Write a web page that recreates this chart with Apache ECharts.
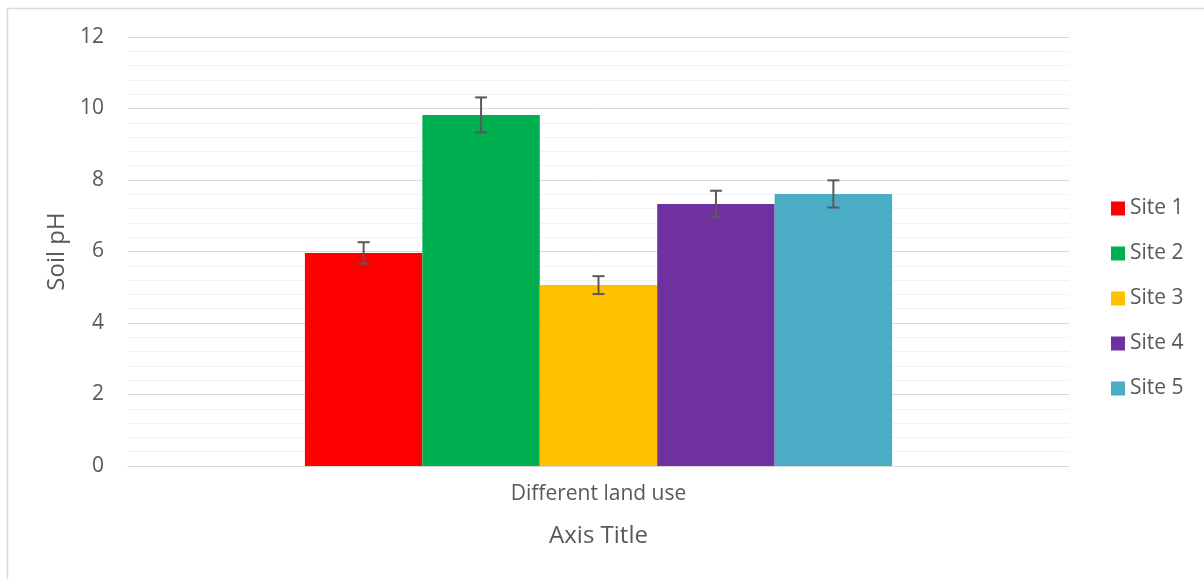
<!DOCTYPE html>
<html>
<head>
<meta charset="utf-8">
<script src="https://cdn.jsdelivr.net/npm/echarts@6/dist/echarts.min.js"></script>
<style>
html,body{margin:0;padding:0;background:#fff;}
#chart{width:1204px;height:579px;}
</style>
</head>
<body>
<div id="chart"></div>
<script>
const categories = ['Different land use'];
const siteNames = ['Site 1', 'Site 2', 'Site 3', 'Site 4', 'Site 5'];
const siteValues = [5.96, 9.82, 5.06, 7.33, 7.61];
const siteErrors = [0.30, 0.49, 0.25, 0.37, 0.38];
const siteColors = ['#ff0000', '#00b050', '#ffc000', '#7030a0', '#4bacc6'];
const yTicks = [0, 2, 4, 6, 8, 10, 12];

const FONT = 'Open Sans';
const TXT = '#595959';
const CAT_GAP = 0.376;

const chart = echarts.init(document.getElementById('chart'));

const barSeries = siteNames.map((name, i) => ({
  name: name,
  type: 'bar',
  data: [siteValues[i]],
  itemStyle: { color: siteColors[i] },
  barGap: '0%',
  barCategoryGap: (CAT_GAP * 100) + '%',
  emphasis: { disabled: true }
}));

const errData = siteNames.map((n, i) => [0, siteValues[i] - siteErrors[i], siteValues[i] + siteErrors[i], i]);

const errSeries = {
  type: 'custom',
  name: 'err',
  z: 10,
  silent: true,
  renderItem: function (params, api) {
    const cat = api.value(0);
    const lo = api.coord([cat, api.value(1)]);
    const hi = api.coord([cat, api.value(2)]);
    const idx = api.value(3);
    const catW = api.size([1, 0])[0];
    const bw = catW * (1 - CAT_GAP) / siteNames.length;
    const x = lo[0] + (idx - (siteNames.length - 1) / 2) * bw;
    const cap = 6;
    const st = { stroke: '#595959', lineWidth: 2 };
    return {
      type: 'group',
      children: [
        { type: 'line', shape: { x1: x, y1: lo[1], x2: x, y2: hi[1] }, style: st },
        { type: 'line', shape: { x1: x - cap, y1: lo[1], x2: x + cap, y2: lo[1] }, style: st },
        { type: 'line', shape: { x1: x - cap, y1: hi[1], x2: x + cap, y2: hi[1] }, style: st }
      ]
    };
  },
  encode: { x: 0, y: [1, 2] },
  data: errData
};

chart.setOption({
  animation: false,
  textStyle: { fontFamily: FONT },
  graphic: [{
    type: 'rect',
    shape: { x: 7.5, y: 8.5, width: 1300, height: 700 },
    style: { fill: 'none', stroke: '#d9d9d9', lineWidth: 1.5 },
    silent: true,
    z: -10
  }],
  grid: { left: 128, right: 135, top: 37, bottom: 113 },
  legend: {
    orient: 'vertical',
    left: 1106,
    top: 193,
    itemWidth: 14,
    itemHeight: 14,
    itemGap: 24,
    icon: 'rect',
    data: siteNames,
    textStyle: { color: TXT, fontSize: 21, fontFamily: FONT, padding: [0, 0, 0, 0] }
  },
  xAxis: {
    type: 'category',
    data: categories,
    name: 'Axis Title',
    nameLocation: 'middle',
    nameGap: 58,
    nameTextStyle: { color: TXT, fontSize: 24, fontFamily: FONT },
    axisLine: { show: true, lineStyle: { color: '#d9d9d9', width: 1 } },
    axisTick: { show: false },
    axisLabel: { color: TXT, fontSize: 21, margin: 18, fontFamily: FONT }
  },
  yAxis: {
    type: 'value',
    min: 0,
    max: 12,
    interval: 2,
    name: 'Soil pH',
    nameLocation: 'middle',
    nameGap: 56,
    nameTextStyle: { color: TXT, fontSize: 24, fontFamily: FONT },
    axisLine: { show: false },
    axisTick: { show: false },
    axisLabel: { color: TXT, fontSize: 21, margin: 24, fontFamily: FONT,
      formatter: v => yTicks.includes(v) ? String(v) : '' },
    splitLine: { show: true, lineStyle: { color: '#d9d9d9', width: 1 } },
    minorTick: { show: false, splitNumber: 5 },
    minorSplitLine: { show: true, lineStyle: { color: '#f2f2f2', width: 1 } }
  },
  series: barSeries.concat([errSeries])
});
</script>
</body>
</html>
